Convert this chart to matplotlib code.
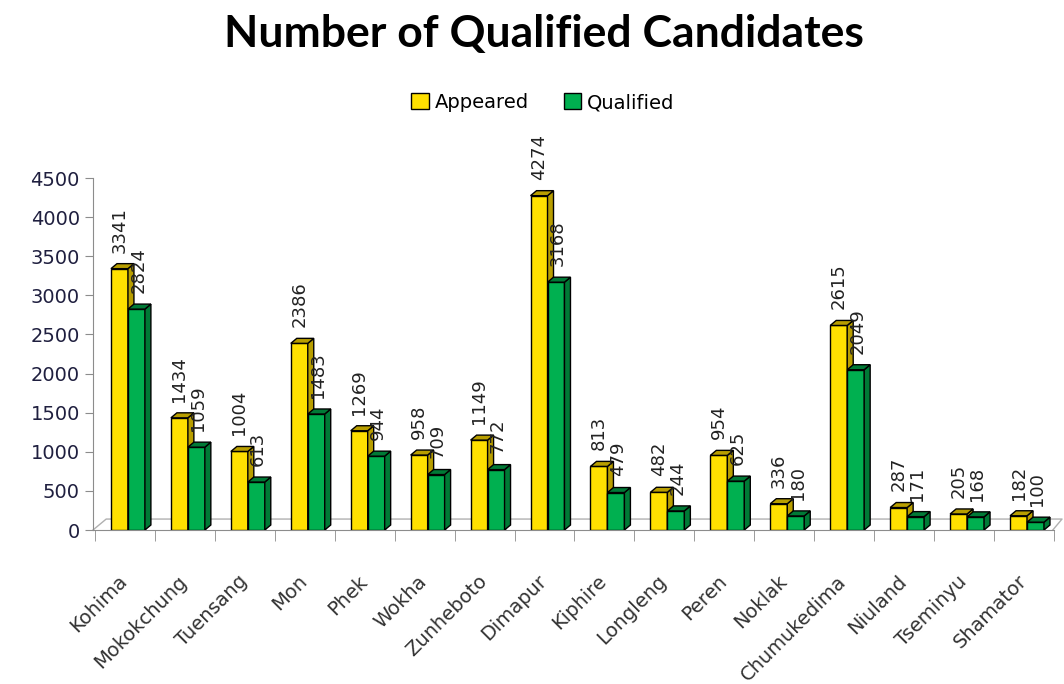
import matplotlib.pyplot as plt
import numpy as np
from matplotlib.patches import Polygon, Patch

districts = ['Kohima', 'Mokokchung', 'Tuensang', 'Mon', 'Phek', 'Wokha', 'Zunheboto',
             'Dimapur', 'Kiphire', 'Longleng', 'Peren', 'Noklak', 'Chumukedima',
             'Niuland', 'Tseminyu', 'Shamator']
appeared = [3341, 1434, 1004, 2386, 1269, 958, 1149, 4274, 813, 482, 954, 336, 2615, 287, 205, 182]
qualified = [2824, 1059, 613, 1483, 944, 709, 772, 3168, 479, 244, 625, 180, 2049, 171, 168, 100]

yellow, yellow_dark = '#FFE000', '#B89E00'
green, green_dark = '#00B050', '#007A36'
grey = '#8C8C8C'

dpi = 100
fig = plt.figure(dpi=dpi, figsize=(1064 / dpi, 684 / dpi))
ax = fig.add_axes([93 / 1064, 1 - 530 / 684, 961 / 1064, 352 / 684])

x = np.arange(len(districts))
w = 0.283
ddx, ddy = 0.1, 64  # fake 3D depth in data units


def draw_3d(bars, dark):
    for b in bars:
        x0, h, bw = b.get_x(), b.get_height(), b.get_width()
        side = Polygon([(x0 + bw, 0), (x0 + bw + ddx, ddy), (x0 + bw + ddx, h + ddy), (x0 + bw, h)],
                       closed=True, facecolor=dark, edgecolor='black', lw=1, zorder=b.get_zorder())
        top = Polygon([(x0, h), (x0 + ddx, h + ddy), (x0 + bw + ddx, h + ddy), (x0 + bw, h)],
                      closed=True, facecolor=dark, edgecolor='black', lw=1, zorder=b.get_zorder())
        ax.add_patch(side)
        ax.add_patch(top)


b1 = ax.bar(x - w, appeared, width=w, align='edge', color=yellow, edgecolor='black', lw=1, zorder=3)
draw_3d(b1, yellow_dark)
b2 = ax.bar(x, qualified, width=w, align='edge', color=green, edgecolor='black', lw=1, zorder=4)
draw_3d(b2, green_dark)

for xi, v in zip(x, appeared):
    ax.annotate(str(v), (xi - w / 2, v + ddy), xytext=(0, 8), textcoords='offset points',
                rotation=90, ha='center', va='bottom', fontsize=13, color='#222222', zorder=6)
for xi, v in zip(x, qualified):
    ax.annotate(str(v), (xi + w / 2 + 0.03, v + ddy), xytext=(0, 8), textcoords='offset points',
                rotation=90, ha='center', va='bottom', fontsize=13, color='#222222', zorder=6)

xl, xr = -0.583, 15.43
ax.set_xlim(xl, xr)
ax.set_ylim(0, 4500)

# floor
fdx, fdy = 0.22, 140
ax.plot([xl, xl + fdx, xr + fdx * 0.7, xr], [0, fdy, fdy, 0], color='#B0B0B0', lw=1,
        clip_on=False, zorder=1)

for s in ['top', 'right']:
    ax.spines[s].set_visible(False)
ax.spines['left'].set_color(grey)
ax.spines['bottom'].set_color(grey)

ax.set_yticks(np.arange(0, 4501, 500))
ax.tick_params(axis='y', colors=grey, labelcolor='#1F1F3F', labelsize=14, length=6, direction='out')
ax.set_xticks(x - 0.17)
ax.set_xticklabels(districts, rotation=45, ha='right', rotation_mode='anchor', fontsize=14,
                   color='#333333')
ax.tick_params(axis='x', length=0, pad=30)
ax.set_xticks(np.arange(len(districts) + 1) - 0.55, minor=True)
ax.tick_params(axis='x', which='minor', length=8, color=grey)

handles = [Patch(facecolor=yellow, edgecolor='black', label='Appeared'),
           Patch(facecolor=green, edgecolor='black', label='Qualified')]
fig.legend(handles=handles, loc='center', bbox_to_anchor=(0.51, 0.85), ncol=2, frameon=False,
           fontsize=14, handlelength=0.9, handleheight=0.9, handletextpad=0.3, columnspacing=1.8)

fig.text(0.511, 0.951, 'Number of Qualified Candidates', ha='center', va='center',
         fontsize=32, fontweight='bold', family='Lato')

fig.savefig('out.png')
